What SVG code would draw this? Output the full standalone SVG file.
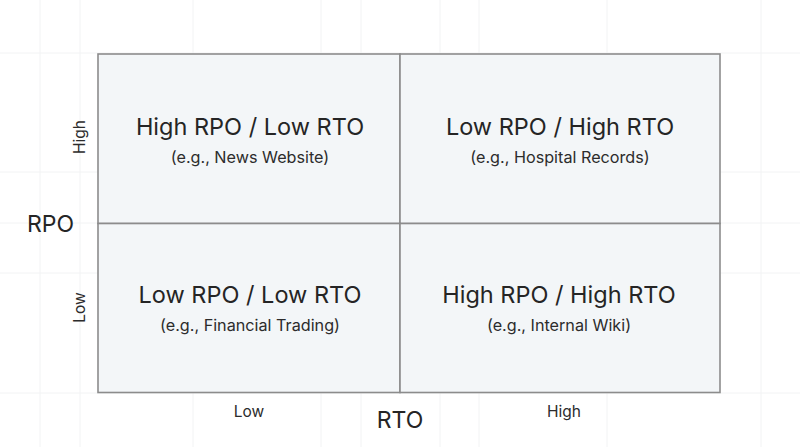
<svg xmlns="http://www.w3.org/2000/svg" width="800" height="447" viewBox="0 0 800 447">
  <style>
    .grid line { stroke: #f2f3f4; stroke-width: 1; }
    .cell { fill: #f3f6f8; stroke: #8c8c8c; stroke-width: 1.6; }
    .title { font-family: Inter, "Noto Sans", "Liberation Sans", sans-serif; font-size: 23.5px; fill: #252525; text-anchor: middle; }
    .sub { font-family: Inter, "Noto Sans", "Liberation Sans", sans-serif; font-size: 16.2px; fill: #2c2c2c; text-anchor: middle; }
    .axis { font-family: Inter, "Noto Sans", "Liberation Sans", sans-serif; font-size: 23px; fill: #252525; text-anchor: middle; }
    .tick { font-family: Inter, "Noto Sans", "Liberation Sans", sans-serif; font-size: 15.5px; fill: #2c2c2c; text-anchor: middle; }
  </style>
  <rect width="800" height="447" fill="#ffffff"/>
  <g class="grid">
    <line x1="40" y1="0" x2="40" y2="447"/>
    <line x1="80" y1="0" x2="80" y2="447"/>
    <line x1="193" y1="0" x2="193" y2="447"/>
    <line x1="321" y1="0" x2="321" y2="447"/>
    <line x1="361" y1="0" x2="361" y2="447"/>
    <line x1="440" y1="0" x2="440" y2="447"/>
    <line x1="479" y1="0" x2="479" y2="447"/>
    <line x1="607" y1="0" x2="607" y2="447"/>
    <line x1="761" y1="0" x2="761" y2="447"/>
    <line x1="0" y1="172" x2="800" y2="172"/>
    <line x1="0" y1="273" x2="800" y2="273"/>
    <line x1="0" y1="223" x2="800" y2="223"/>
    <line x1="0" y1="53" x2="800" y2="53"/>
    <line x1="0" y1="393" x2="800" y2="393"/>
  </g>
  <g id="q-high-rpo-low-rto">
    <rect class="cell" x="98" y="54" width="302" height="169.5"/>
    <text class="title" x="250" y="135">High RPO / Low RTO</text>
    <text class="sub" x="250" y="163">(e.g., News Website)</text>
  </g>
  <g id="q-low-rpo-high-rto">
    <rect class="cell" x="400" y="54" width="320" height="169.5"/>
    <text class="title" x="560" y="135">Low RPO / High RTO</text>
    <text class="sub" x="560" y="163">(e.g., Hospital Records)</text>
  </g>
  <g id="q-low-rpo-low-rto">
    <rect class="cell" x="98" y="223.5" width="302" height="169"/>
    <text class="title" x="250" y="303">Low RPO / Low RTO</text>
    <text class="sub" x="250" y="331">(e.g., Financial Trading)</text>
  </g>
  <g id="q-high-rpo-high-rto">
    <rect class="cell" x="400" y="223.5" width="320" height="169"/>
    <text class="title" x="559" y="303">High RPO / High RTO</text>
    <text class="sub" x="559" y="331">(e.g., Internal Wiki)</text>
  </g>
  <g id="axis-rpo">
    <text class="axis" x="50.5" y="232">RPO</text>
    <text class="tick" transform="translate(85,137) rotate(-90)">High</text>
    <text class="tick" transform="translate(85,307.5) rotate(-90)">Low</text>
  </g>
  <g id="axis-rto">
    <text class="axis" x="400" y="428">RTO</text>
    <text class="tick" x="249" y="417">Low</text>
    <text class="tick" x="564" y="417">High</text>
  </g>
</svg>
